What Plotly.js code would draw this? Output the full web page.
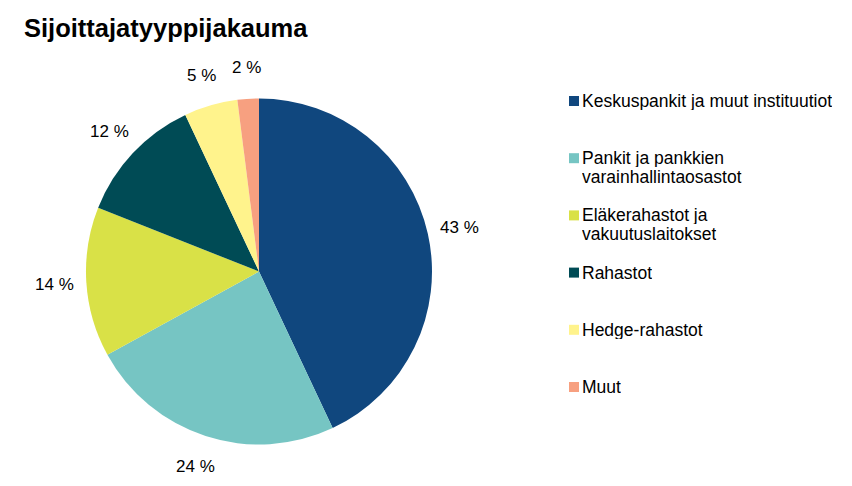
<!DOCTYPE html>
<html>
<head>
<meta charset="utf-8">
<script src="https://cdn.plot.ly/plotly-3.0.1.min.js"></script>
<style>body{margin:0;background:#fff}#chart{width:852px;height:486px}</style>
</head>
<body>
<div id="chart"></div>
<script>
// sijoittajatyyppijakauma
var labels = ['Keskuspankit ja muut instituutiot', 'Pankit ja pankkien<br>varainhallintaosastot',
  'Eläkerahastot ja<br>vakuutuslaitokset', 'Rahastot', 'Hedge-rahastot', 'Muut'];
var shares = [43, 24, 14, 12, 5, 2];
var colors = ['#10477e', '#76c5c3', '#d9e147', '#004b55', '#fff38c', '#f7a080'];

var W = 852, H = 486;
var FONT = 'Liberation Sans, Arial, sans-serif';
var cx = 259, cy = 272, rLab = 205;

var data = [{
  type: 'pie',
  values: shares,
  labels: labels,
  textinfo: 'none',
  sort: false,
  direction: 'clockwise',
  rotation: 0,
  marker: {colors: colors, line: {width: 0}},
  domain: {x: [86 / W, 432 / W], y: [1 - 445 / H, 1 - 98 / H]},
  showlegend: false,
  hoverinfo: 'label+percent'
}];

var shapes = [], annotations = [];

// prosenttiluvut sektorien ulkopuolelle
var total = shares.reduce(function(a, b){ return a + b; }, 0);
var cum = 0;
shares.forEach(function(v){
  var a = (cum + v / 2) / total * 2 * Math.PI;
  cum += v;
  var px = cx + rLab * Math.sin(a), py = cy - rLab * Math.cos(a);
  annotations.push({xref: 'paper', yref: 'paper', x: px / W, y: 1 - py / H,
    xanchor: 'center', yanchor: 'middle', showarrow: false, text: v + ' %',
    font: {size: 17, color: '#000', family: FONT}});
});

// selite käsin
labels.forEach(function(l, i){
  var yc = 101 + i * 57.2;
  shapes.push({type: 'rect', xref: 'paper', yref: 'paper',
    x0: 569 / W, x1: 579 / W, y0: 1 - (yc + 5) / H, y1: 1 - (yc - 5) / H,
    fillcolor: colors[i], line: {width: 0}});
  l.split('<br>').forEach(function(line, k){
    annotations.push({xref: 'paper', yref: 'paper', x: 580 / W, y: 1 - (yc + k * 19) / H,
      xanchor: 'left', yanchor: 'middle', align: 'left', valign: 'middle', height: 18,
      showarrow: false, text: line,
      font: {size: 17.5, color: '#000', family: FONT}});
  });
});

var layout = {
  width: W, height: H,
  margin: {l: 0, r: 0, t: 0, b: 0},
  paper_bgcolor: '#fff',
  title: {text: '<b>Sijoittajatyyppijakauma</b>', x: 24 / W, xanchor: 'left', y: 1 - 28 / H, yanchor: 'middle',
    font: {size: 25.5, color: '#000', family: FONT}},
  shapes: shapes,
  annotations: annotations
};

Plotly.newPlot('chart', data, layout, {displayModeBar: false});
</script>
</body>
</html>
